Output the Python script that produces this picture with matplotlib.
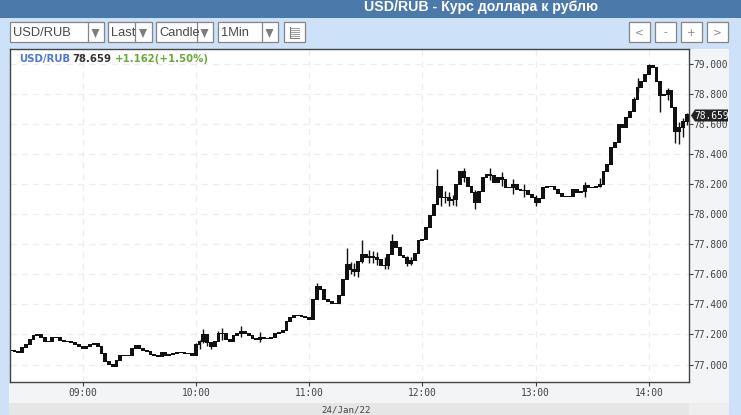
import matplotlib
matplotlib.use('Agg')
import matplotlib.pyplot as plt
from matplotlib.patches import Rectangle, Polygon
import numpy as np

W, H = 741, 415

# two minute closes
closes = [
    77.093, 77.086, 77.080, 77.113, 77.133, 77.166, 77.193, 77.200, 77.180, 77.153,
    77.153, 77.180, 77.180, 77.160, 77.153, 77.153, 77.146, 77.133, 77.120, 77.106,
    77.120, 77.133, 77.140, 77.120, 77.073, 77.020, 77.000, 76.987, 77.027, 77.060,
    77.060, 77.060, 77.106, 77.126, 77.106, 77.093, 77.086, 77.067, 77.060, 77.053,
    77.080, 77.060, 77.067, 77.073, 77.080, 77.080, 77.073, 77.073, 77.060,
    77.133, 77.153, 77.200, 77.146, 77.120, 77.153, 77.206, 77.206, 77.166, 77.153,
    77.193, 77.206, 77.219, 77.206, 77.193, 77.173, 77.166, 77.180, 77.173, 77.173,
    77.180, 77.206, 77.213, 77.226, 77.286, 77.313, 77.326, 77.326, 77.319, 77.313,
    77.299, 77.432, 77.519, 77.499, 77.432,
    77.419, 77.406, 77.406, 77.459, 77.565, 77.665, 77.632, 77.618, 77.685, 77.732,
    77.712, 77.718, 77.712, 77.698, 77.658, 77.658, 77.732, 77.818, 77.778, 77.725,
    77.712, 77.672, 77.692, 77.738, 77.825, 77.831, 77.911, 77.991,
    78.064, 78.184, 78.111, 78.111, 78.091, 78.097, 78.197, 78.283, 78.244, 78.184,
    78.144, 78.077, 78.150, 78.244, 78.263, 78.257, 78.210, 78.244, 78.230, 78.177,
    78.177, 78.197, 78.164, 78.157, 78.157, 78.130, 78.111, 78.077, 78.104, 78.177,
    78.184, 78.184, 78.164, 78.137, 78.117, 78.117, 78.117, 78.164, 78.144, 78.150,
    78.190, 78.177, 78.177, 78.184, 78.197, 78.283, 78.330,
    78.443, 78.476, 78.596, 78.576, 78.643, 78.682, 78.762, 78.842, 78.882, 78.929,
    78.988, 78.975, 78.882, 78.789, 78.796, 78.822, 78.709, 78.549, 78.576, 78.616,
    78.663,
]
times = np.arange(len(closes)) * 2 + 502  # minutes after midnight

# the wicks that stand out
wick_idx = [49, 50, 51, 52, 53, 55, 56, 61, 66, 81, 89, 90, 91, 92, 93, 95, 96, 97, 99, 100,
            101, 105, 106, 113, 114, 115, 116, 117, 118, 120, 123, 127, 130, 133, 136, 139,
            152, 156, 165, 166, 169, 172, 174, 176, 177, 178, 179]
wick_high = [77.146, 77.166, 77.239, 77.193, 77.153, 77.226, 77.246, 77.253, 77.213, 77.539,
             77.778, 77.685, 77.672, 77.665, 77.825, 77.765, 77.758, 77.751, 77.712, 77.712,
             77.871, 77.725, 77.718, 78.303, 78.164, 78.157, 78.150, 78.130, 78.144, 78.310,
             78.164, 78.310, 78.283, 78.237, 78.204, 78.130, 78.217, 78.243, 78.782, 78.908,
             79.002, 78.829, 78.842, 78.629, 78.616, 78.642, 78.676]
wick_low = [77.106, 77.106, 77.140, 77.120, 77.106, 77.166, 77.166, 77.180, 77.153, 77.459,
            77.618, 77.599, 77.592, 77.585, 77.678, 77.678, 77.678, 77.665, 77.632, 77.632,
            77.778, 77.658, 77.665, 78.111, 78.057, 78.071, 78.057, 78.064, 78.057, 78.217,
            78.037, 78.230, 78.190, 78.137, 78.117, 78.057, 78.111, 78.184, 78.689, 78.815,
            78.949, 78.682, 78.762, 78.476, 78.470, 78.516, 78.596]

y_ticks = [77.0, 77.2, 77.4, 77.6, 77.8, 78.0, 78.2, 78.4, 78.6, 78.8, 79.0]
x_ticks = [540, 600, 660, 720, 780, 840]
x_labels = ['09:00', '10:00', '11:00', '12:00', '13:00', '14:00']

UI = 'Liberation Sans'
SANS = 'DejaVu Sans'
MONO = 'DejaVu Sans Mono'
BORDER = '#858585'

fig = plt.figure(figsize=(W / 100, H / 100), dpi=100, facecolor='#cde1f9')


def box(x0, y0, x1, y1, fc='none', ec='none', lw=1.0, z=1):
    fig.add_artist(Rectangle((x0 / W, 1 - y1 / H), (x1 - x0) / W, (y1 - y0) / H,
                             transform=fig.transFigure, fc=fc, ec=ec, lw=lw, zorder=z))


def label(x, y, s, **kw):
    kw.setdefault('ha', 'left')
    kw.setdefault('va', 'center')
    return fig.text(x / W, 1 - y / H, s, **kw)


def hline(x0, x1, y, color, lw=.8, z=3):
    fig.add_artist(plt.Line2D([x0 / W, x1 / W], [1 - y / H] * 2, color=color, lw=lw, zorder=z))


def down_arrow(x, y):
    fig.add_artist(Polygon([((x - 4) / W, 1 - (y - 4) / H), ((x + 4) / W, 1 - (y - 4) / H),
                            (x / W, 1 - (y + 5) / H)], transform=fig.transFigure,
                           fc='#7d7d7d', ec='none', zorder=3))


# page chrome
box(0, 0, W, 18, fc='#4b79a9')
label(481, 6.5, 'USD/RUB - Курс доллара к рублю', color='white', fontsize=10.2,
      fontweight='bold', family=UI, ha='center')
box(9, 382, 729, 403, fc='#f2f4f6')
box(689, 49, 729, 382, fc='#f2f4f6')
box(9, 403, 689, 415, fc='#e6e6e6')
box(689, 403, 729, 415, fc='#eeeeee')

# dropdowns
for x0, x1, split, txt in [(10, 104, 88, 'USD/RUB'), (108, 152, 135, 'Last'),
                           (156, 213, 197, 'Candle'), (218, 278, 262, '1Min')]:
    box(x0 - .5, 22.5, x1 - .5, 42.5, fc='white', ec=BORDER, lw=.9, z=2)
    fig.add_artist(plt.Line2D([(split - .5) / W] * 2, [1 - 22.5 / H, 1 - 42.5 / H],
                              color=BORDER, lw=.9, zorder=3))
    label(x0 + 3, 33, txt, color='#4a4a4a', fontsize=9.3, family=UI, zorder=3)
    down_arrow((split + x1) / 2 - .5, 33)

# table icon button
box(283.5, 22.5, 304.5, 42.5, fc='white', ec=BORDER, lw=.9, z=2)
for y in [28.5, 30.5, 32.5, 34.5, 36.5]:
    hline(291, 299, y, '#999999', lw=.7)
fig.add_artist(plt.Line2D([289.5 / W] * 2, [1 - 27 / H, 1 - 38 / H], color='#777777', lw=.7, zorder=3))
hline(289.5, 299, 38, '#777777', lw=.7)

# scroll and zoom buttons
for x0, txt in [(629, '<'), (655, '-'), (681, '+'), (707, '>')]:
    box(x0 - .5, 22.5, x0 + 20.5, 42.5, fc='white', ec=BORDER, lw=.9, z=2)
    label(x0 + 10, 32.5, txt, color='#888888', fontsize=7.5, ha='center', family=SANS, zorder=3)

# chart
ax = fig.add_axes([9.5 / W, 1 - 381.5 / H, 679 / W, 333 / H], facecolor='white', zorder=2)
ax.set_xlim(501.3, 861)
ax.set_ylim(76.887, 79.102)
ax.grid(True, color='#eeeeee', lw=.9, ls=(0, (5, 4)))
ax.set_axisbelow(True)

opens = np.array([closes[0]] + closes[:-1])
closes_arr = np.array(closes)
bottoms = np.minimum(opens, closes_arr) - 0.004
heights = np.abs(closes_arr - opens) + 0.008
ax.bar(times, heights, bottom=bottoms, width=2.0, color='#111111', lw=0)
ax.vlines(times[wick_idx], wick_low, wick_high, color='#111111', lw=1.0)

ax.yaxis.tick_right()
ax.set_yticks(y_ticks)
ax.set_yticklabels([f'{v:.3f}' for v in y_ticks], family=MONO)
ax.set_xticks(x_ticks)
ax.set_xticklabels(x_labels, family=MONO)
ax.tick_params(axis='y', length=3, width=.8, color='#444444', labelcolor='#444444',
               labelsize=6.9, pad=0.5)
ax.tick_params(axis='x', length=3, width=.8, color='#444444', labelcolor='#444444',
               labelsize=6.9, pad=1.5)
for sp in ax.spines.values():
    sp.set_color('#444444')
    sp.set_linewidth(1.0)

# quote line
label(19.5, 59, 'USD/RUB', color='#4f77cb', fontsize=7.3, fontweight='bold', family=SANS, zorder=5)
label(72.5, 59, '78.659', color='#333333', fontsize=7.3, fontweight='bold', family=SANS, zorder=5)
label(114.5, 59, '+1.162(+1.50%)', color='#6aa83a', fontsize=7.3, fontweight='bold', family=SANS, zorder=5)

# last price flag
fig.add_artist(Polygon([(691 / W, 1 - 115.5 / H), (695 / W, 1 - 109.5 / H), (728 / W, 1 - 109.5 / H),
                        (728 / W, 1 - 121.5 / H), (695 / W, 1 - 121.5 / H)],
                       transform=fig.transFigure, fc='#222222', ec='none', zorder=6))
label(711.5, 115.5, '78.659', color='white', fontsize=6.9, ha='center', family=MONO, zorder=7)

label(346, 409.5, '24/Jan/22', color='#444444', fontsize=6.6, ha='center', family=MONO, zorder=5)

fig.savefig('out.png', dpi=100, facecolor=fig.get_facecolor())
